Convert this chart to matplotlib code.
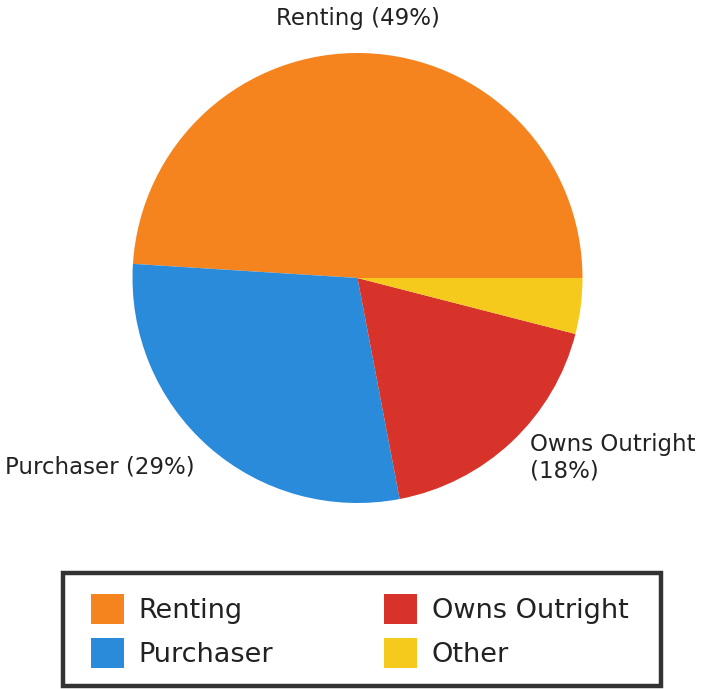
import matplotlib.pyplot as plt
from matplotlib.patches import Rectangle

categories = ["Renting", "Purchaser", "Owns Outright", "Other"]
shares = [49, 29, 18, 4]
colors = ["#F5841F", "#2A8BDB", "#D8332B", "#F6CA1C"]
slice_labels = ["Renting (49%)", "Purchaser (29%)", "Owns Outright\n(18%)"]

W, H = 712, 689
fig = plt.figure(figsize=(W / 100, H / 100), dpi=100)
fig.patch.set_facecolor("white")

# pie centred near (358, 278) px, radius ~225 px
cx, cy, r = 357.5, 278, 225
ax = fig.add_axes([(cx - r) / W, (H - cy - r) / H, 2 * r / W, 2 * r / H])
wedges, _ = ax.pie(shares, colors=colors, startangle=0, counterclock=True,
                   radius=1, wedgeprops=dict(linewidth=0))
ax.set_xlim(-1, 1)
ax.set_ylim(-1, 1)
ax.set_aspect("equal")
ax.axis("off")

txt = dict(color="#222222", fontsize=16.5, family="DejaVu Sans")
fig.text(358 / W, 1 - 18 / H, slice_labels[0], ha="center", va="center", **txt)
fig.text(5 / W, 1 - 467 / H, slice_labels[1], ha="left", va="center", **txt)
fig.text(530 / W, 1 - 458 / H, slice_labels[2], ha="left", va="center",
         linespacing=1.2, **txt)

# legend frame
fig.patches.append(Rectangle((63 / W, 1 - 686 / H), 598 / W, 113 / H,
                             transform=fig.transFigure, facecolor="white",
                             edgecolor="#333333", linewidth=3.2, zorder=0))

leg = fig.legend(wedges, categories, ncol=2, loc="center",
                 bbox_to_anchor=(360 / W, 1 - 631 / H), frameon=False,
                 fontsize=19.5, handlelength=1.2, handleheight=1.35,
                 handletextpad=0.55, columnspacing=4.1, labelspacing=0.5)
for t in leg.get_texts():
    t.set_color("#222222")

fig.savefig("out.png", dpi=100, facecolor="white")
